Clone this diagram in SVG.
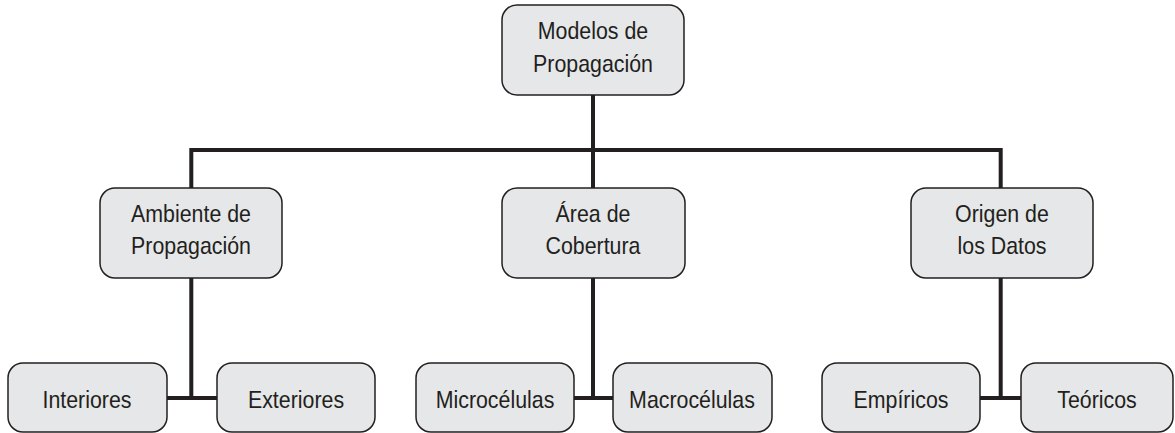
<svg xmlns="http://www.w3.org/2000/svg" width="1175" height="433" viewBox="0 0 1175 433">
<style>
.box{fill:#e6e7e8;stroke:#231f20;stroke-width:1.5}
.t{font-family:"Liberation Sans",Arial,sans-serif;font-size:24px;fill:#231f20;text-anchor:middle}
.c{stroke:#231f20;stroke-width:4;fill:none}
</style>
<rect width="1175" height="433" fill="#ffffff"/>
<g id="connectors">
<path class="c" d="M593 95V150M191.3 150H1000.7M191.3 148V188M593 148V188M1000.7 148V188"/>
<path class="c" d="M191.3 278V398M167 398H217"/>
<path class="c" d="M593 278V398M574 398H613"/>
<path class="c" d="M1000.7 278V398M980 398H1021"/>
</g>
<g id="n-modelos"><rect class="box" x="502" y="5" width="182" height="90" rx="15"/><text class="t" transform="translate(593 39) scale(0.89 1)">Modelos de</text><text class="t" transform="translate(593 72) scale(0.89 1)">Propagación</text></g>
<g id="n-ambiente"><rect class="box" x="100" y="188" width="182" height="90" rx="15"/><text class="t" transform="translate(191 222) scale(0.89 1)">Ambiente de</text><text class="t" transform="translate(191 254) scale(0.89 1)">Propagación</text></g>
<g id="n-area"><rect class="box" x="502" y="188" width="183" height="90" rx="15"/><text class="t" transform="translate(593 222) scale(0.89 1)">Área de</text><text class="t" transform="translate(593 254) scale(0.89 1)">Cobertura</text></g>
<g id="n-origen"><rect class="box" x="911" y="188" width="182" height="90" rx="15"/><text class="t" transform="translate(1002 222) scale(0.89 1)">Origen de</text><text class="t" transform="translate(1002 254) scale(0.89 1)">los Datos</text></g>
<g id="n-interiores"><rect class="box" x="8" y="363" width="159" height="69" rx="15"/><text class="t" transform="translate(87 408) scale(0.89 1)">Interiores</text></g>
<g id="n-exteriores"><rect class="box" x="217" y="363" width="158" height="69" rx="15"/><text class="t" transform="translate(296 408) scale(0.89 1)">Exteriores</text></g>
<g id="n-micro"><rect class="box" x="416" y="363" width="158" height="69" rx="15"/><text class="t" transform="translate(495 408) scale(0.89 1)">Microcélulas</text></g>
<g id="n-macro"><rect class="box" x="613" y="363" width="159" height="69" rx="15"/><text class="t" transform="translate(692 408) scale(0.89 1)">Macrocélulas</text></g>
<g id="n-empiricos"><rect class="box" x="822" y="363" width="158" height="69" rx="15"/><text class="t" transform="translate(901 408) scale(0.89 1)">Empíricos</text></g>
<g id="n-teoricos"><rect class="box" x="1021" y="363" width="152" height="69" rx="15"/><text class="t" transform="translate(1097 408) scale(0.89 1)">Teóricos</text></g>
</svg>
